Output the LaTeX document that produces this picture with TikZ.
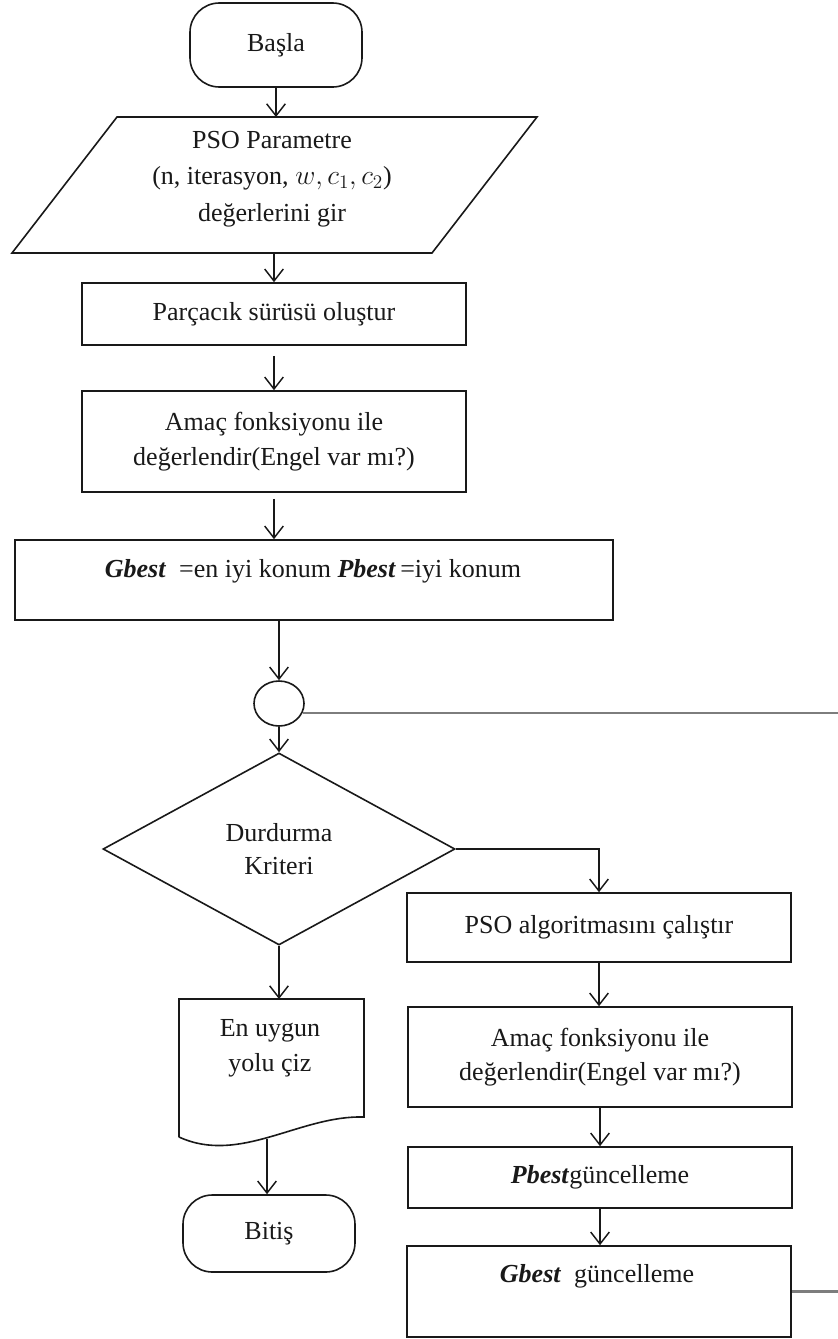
\documentclass[tikz,border=0pt]{standalone}
\usepackage{fontspec}
\setmainfont{Liberation Serif}
\usetikzlibrary{shapes.geometric,arrows.meta}
\definecolor{loopgray}{RGB}{125,125,125}
\definecolor{ink}{RGB}{25,25,25}
\begin{document}
\begin{tikzpicture}[x=0.75pt,y=-0.75pt,
  font=\fontsize{19.5}{26}\selectfont, text=ink,
  box/.style={draw=ink, line width=1.2pt, rectangle, inner sep=0pt, align=center},
  term/.style={draw=ink, line width=1.2pt, rectangle, rounded corners=22pt, inner sep=0pt},
  shapeonly/.style={inner sep=0pt, outer sep=0pt},
  txt/.style={align=center, inner sep=0pt},
  outline/.style={draw=ink, line width=1.2pt},
  arr/.style={draw=ink, line width=1.1pt, -{Straight Barb[length=9pt,width=14pt,line width=1.1pt]}},
  loopline/.style={draw=loopgray, line width=1.6pt}]
\useasboundingbox (0,0) rectangle (838,1339);
\fill[white] (0,0) rectangle (838,1339);

% left column
\node[term, minimum width=129pt, minimum height=63pt] (basla) at (276,45) {Başla};
\node[shapeonly, minimum width=315pt, minimum height=102pt] (param) at (274,185) {};
\draw[outline] (117,117) -- (537,117) -- (432,253) -- (12,253) -- cycle;
\node[txt, font=\fontsize{19.5}{27.5}\selectfont] (paramtxt) at (272,179) {PSO Parametre\\(n, iterasyon, $w, c_1, c_2$)\\değerlerini gir};
\node[box, minimum width=288pt, minimum height=46.5pt] (b1) at (274,314) {Parçacık sürüsü oluştur};
\node[box, minimum width=288pt, minimum height=75.75pt] (b2) at (274,441.5) {Amaç fonksiyonu ile\\değerlendir(Engel var mı?)};
\node[box, minimum width=448.5pt, minimum height=60pt] (b3) at (314,580) {};
\node[txt] (b3t) at (313,571) {\textbf{\textit{Gbest}}\enspace=en iyi konum \textbf{\textit{Pbest}}\,=iyi konum};
\node[draw=ink, ellipse, line width=1.2pt, minimum width=37.5pt, minimum height=33.75pt, inner sep=0pt] (circ) at (279,703.5) {};
\node[draw=ink, diamond, line width=1.2pt, minimum width=264pt, minimum height=144pt, inner sep=0pt, align=center, font=\fontsize{19.5}{24.5}\selectfont] (dia) at (279,849) {Durdurma\\Kriteri};
\node[shapeonly, minimum width=138.75pt, minimum height=103.5pt] (doc) at (271.5,1068) {};
\draw[outline] (179,1137) -- (179,999) -- (364,999) -- (364,1117) .. controls (300,1115) and (240,1165) .. (179,1137);
\node[txt] (doct) at (270,1048.5) {En uygun\\yolu çiz};
\coordinate (docb) at (267,1139);
\node[term, minimum width=129pt, minimum height=57.75pt] (bitis) at (269,1233.5) {Bitiş};

% right column
\node[box, minimum width=288pt, minimum height=51.75pt] (pso) at (599,927.5) {PSO algoritmasını çalıştır};
\node[box, minimum width=288pt, minimum height=75pt] (b5) at (600,1057) {Amaç fonksiyonu ile\\değerlendir(Engel var mı?)};
\node[box, minimum width=288pt, minimum height=45.75pt] (pb) at (600,1177.5) {\textbf{\textit{Pbest}}güncelleme};
\node[box, minimum width=288pt, minimum height=68.25pt] (gb) at (599,1291.5) {};
\node[txt] (gbt) at (597,1276) {\textbf{\textit{Gbest}}\enspace güncelleme};
\coordinate (edge) at (838,0);

% connectors
\draw[arr] (basla.south) -- (basla.south |- param.north);
\draw[arr] (param.south -| b1.north) -- (b1.north);
\draw[arr, shorten <=7.5pt] (b1.south) -- (b2.north);
\draw[arr, shorten <=4.5pt] (b2.south) -- (b2.south |- b3.north);
\draw[arr] (circ.north |- b3.south) -- (circ.north);
\draw[arr] (circ.south) -- (dia.north);
\draw[loopline] (circ.-22) -- (circ.-22 -| edge);
\draw[arr] (dia.east) -| (pso.north);
\draw[arr] (pso.south) -- (pso.south |- b5.north);
\draw[arr] (b5.south) -- (b5.south |- pb.north);
\draw[arr] (pb.south) -- (pb.south |- gb.north);
\draw[loopline] (gb.east) -- (gb.east -| edge);
\draw[arr] (dia.south) -- (dia.south |- doc.north);
\draw[arr] (docb) -- (docb |- bitis.north);
\end{tikzpicture}
\end{document}
